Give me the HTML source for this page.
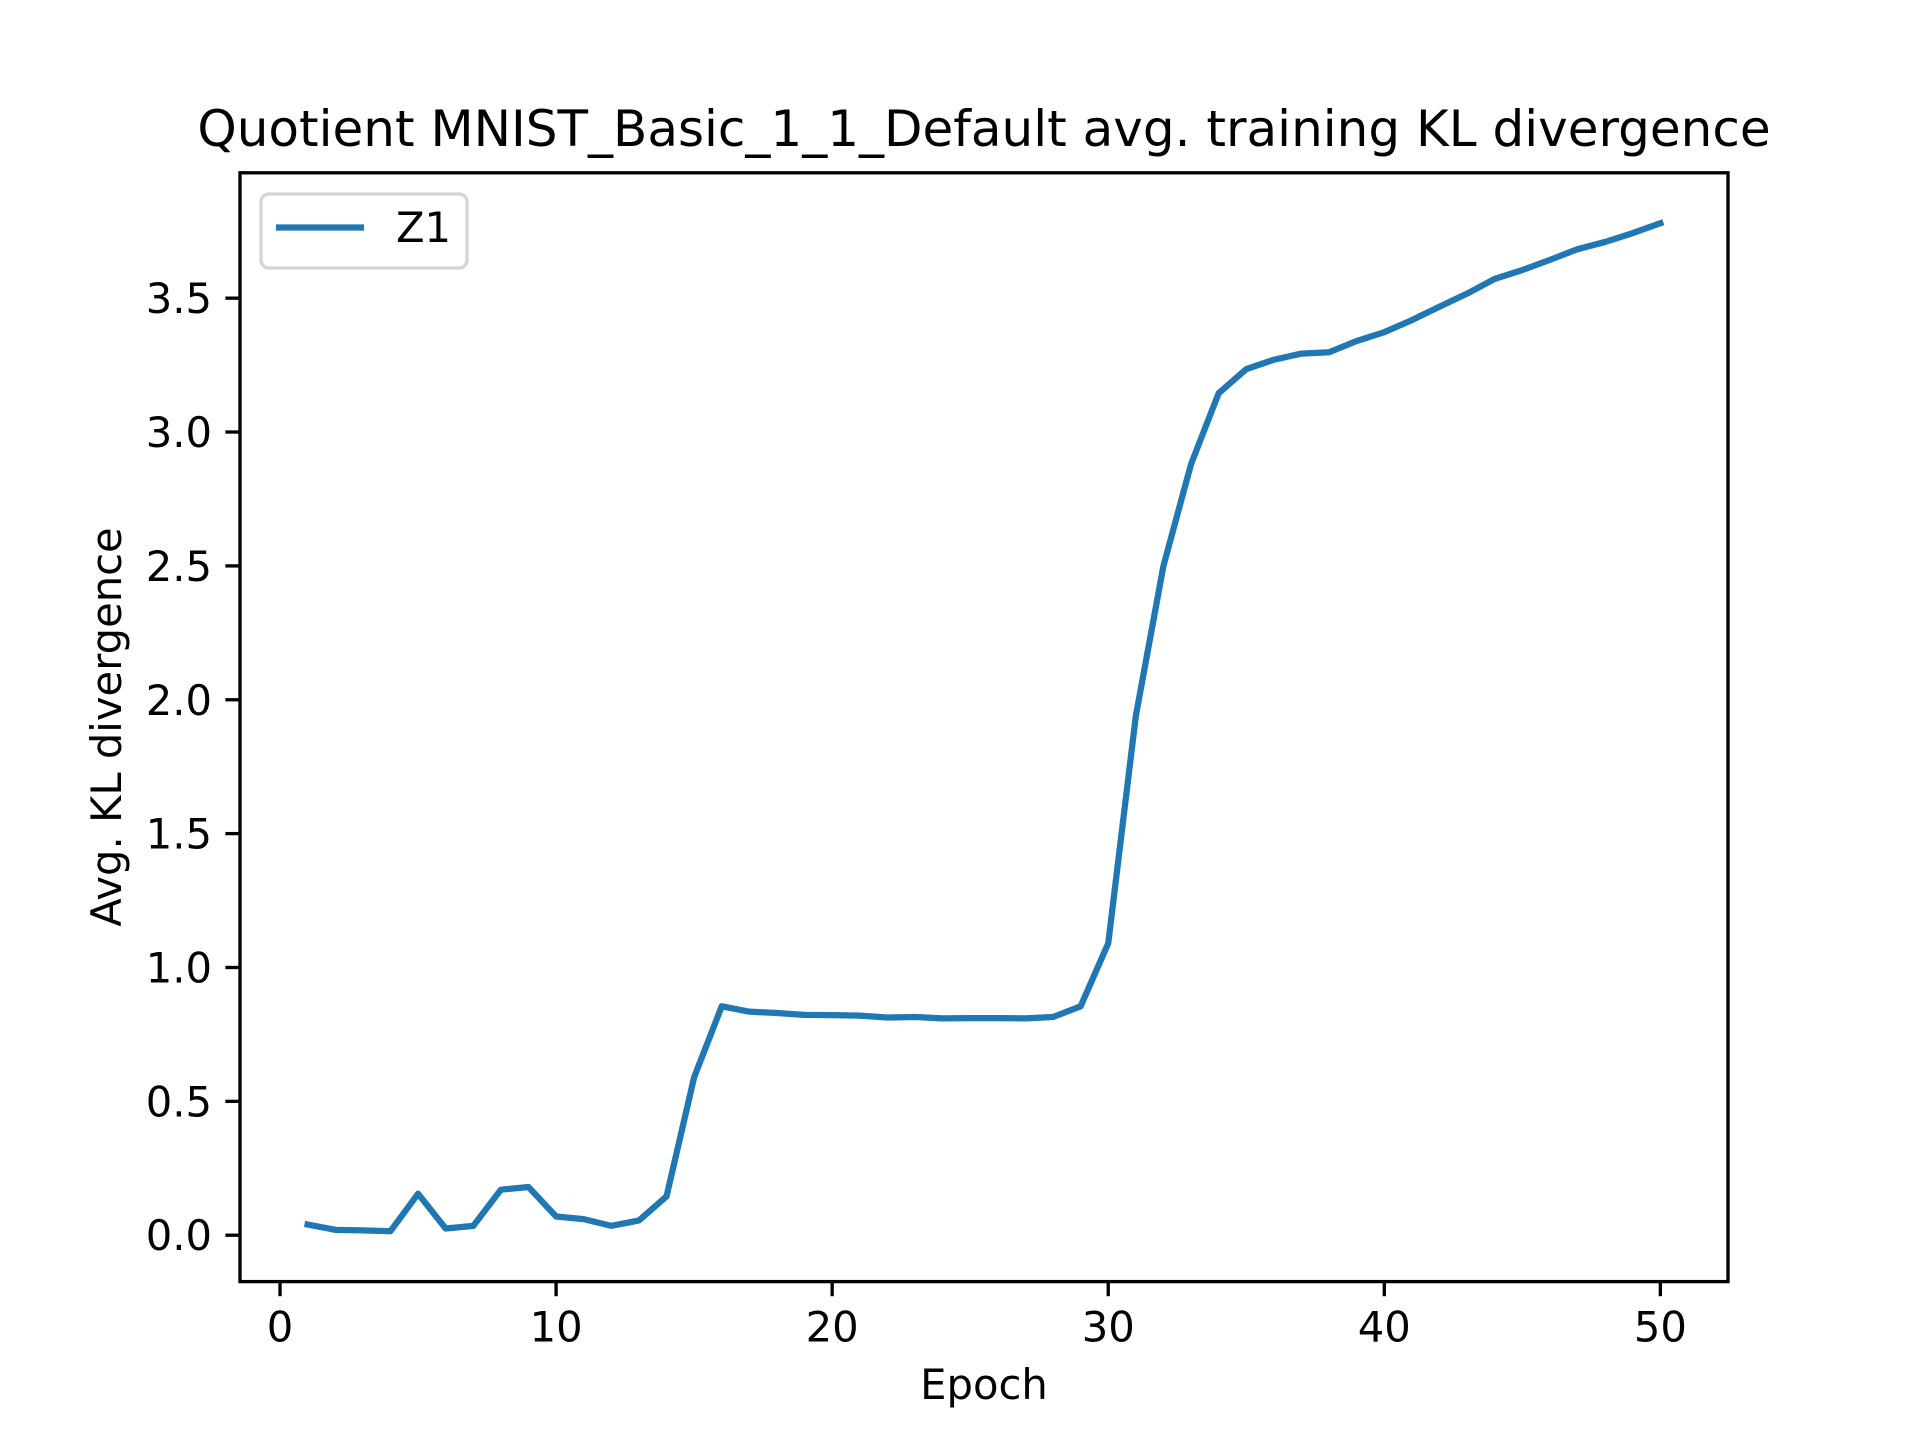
<!DOCTYPE html>
<html><head><meta charset="utf-8"><style>
html,body{margin:0;padding:0;background:#fff;}
svg{display:block;font-family:"DejaVu Sans","Liberation Sans",sans-serif;}
</style></head><body>
<svg id="chart" width="1920" height="1440" viewBox="0 0 1920 1440" xmlns="http://www.w3.org/2000/svg">
<rect x="0" y="0" width="1920" height="1440" fill="#fff"/>
<text x="984" y="146" font-size="50" text-anchor="middle" fill="#000">Quotient MNIST_Basic_1_1_Default avg. training KL divergence</text>
<g id="xticks"></g>
<g id="yticks"></g>
<path id="series" fill="none" stroke="#1f77b4" stroke-width="6.25" stroke-linejoin="round" stroke-linecap="square"/>
<rect x="240" y="172.8" width="1488" height="1108.8" fill="none" stroke="#000" stroke-width="3.33"/>
<text x="984" y="1399" font-size="41.7" text-anchor="middle" fill="#000">Epoch</text>
<text x="0" y="0" font-size="41.7" text-anchor="middle" fill="#000" transform="translate(121,727) rotate(-90)">Avg. KL divergence</text>
<g>
<rect x="261" y="194" width="206" height="74" rx="8" fill="#fff" fill-opacity="0.8" stroke="#d5d5d5" stroke-width="3.33"/>
<line x1="276" y1="227.5" x2="364" y2="227.5" stroke="#1f77b4" stroke-width="6.25"/>
<text x="396" y="242" font-size="41.7" fill="#000">Z1</text>
</g>
</svg>
<script>
const epochs = [1,2,3,4,5,6,7,8,9,10,11,12,13,14,15,16,17,18,19,20,21,22,23,24,25,26,27,28,29,30,31,32,33,34,35,36,37,38,39,40,41,42,43,44,45,46,47,48,49,50];
const z1 = [0.04,0.02,0.018,0.015,0.155,0.025,0.035,0.17,0.18,0.07,0.06,0.035,0.055,0.145,0.59,0.855,0.835,0.83,0.823,0.822,0.82,0.813,0.815,0.81,0.811,0.811,0.81,0.815,0.855,1.09,1.94,2.5,2.88,3.145,3.235,3.27,3.293,3.298,3.34,3.373,3.418,3.468,3.517,3.572,3.605,3.643,3.683,3.71,3.743,3.78];
const xTicks = [0,10,20,30,40,50];
const yTicks = [0.0,0.5,1.0,1.5,2.0,2.5,3.0,3.5];
const yTickLabels = ["0.0","0.5","1.0","1.5","2.0","2.5","3.0","3.5"];

const L=240,R=1728,T=172.8,B=1281.6;
const xmin0=Math.min(...epochs),xmax0=Math.max(...epochs);
const ymin0=Math.min(...z1),ymax0=Math.max(...z1);
const xpad=(xmax0-xmin0)*0.05,ypad=(ymax0-ymin0)*0.05;
const xmin=xmin0-xpad,xmax=xmax0+xpad,ymin=ymin0-ypad,ymax=ymax0+ypad;
const sx=v=>L+(v-xmin)/(xmax-xmin)*(R-L);
const sy=v=>B-(v-ymin)/(ymax-ymin)*(B-T);
const NS="http://www.w3.org/2000/svg";

const xg=document.getElementById('xticks');
xTicks.forEach(t=>{
  const x=sx(t);
  const ln=document.createElementNS(NS,'line');
  
  
  ln.setAttribute('x1',x);ln.setAttribute('x2',x);ln.setAttribute('y1',B);ln.setAttribute('y2',B+14.6);
  ln.setAttribute('stroke','#000');ln.setAttribute('stroke-width','3.33');
  xg.appendChild(ln);
  const tx=document.createElementNS(NS,'text');
  
  
  tx.setAttribute('x',x);tx.setAttribute('y',B+60);tx.setAttribute('font-size','41.7');tx.setAttribute('text-anchor','middle');
  tx.textContent=String(t);
  xg.appendChild(tx);
});
const yg=document.getElementById('yticks');
yTicks.forEach((t,i)=>{
  const y=sy(t);
  const ln=document.createElementNS(NS,'line');
  
  
  ln.setAttribute('x1',L-14.6);ln.setAttribute('x2',L);ln.setAttribute('y1',y);ln.setAttribute('y2',y);
  ln.setAttribute('stroke','#000');ln.setAttribute('stroke-width','3.33');
  yg.appendChild(ln);
  const tx=document.createElementNS(NS,'text');
  
  
  tx.setAttribute('x',L-28);tx.setAttribute('y',y+15);tx.setAttribute('font-size','41.7');tx.setAttribute('text-anchor','end');
  tx.textContent=yTickLabels[i];
  yg.appendChild(tx);
});
document.getElementById('series').setAttribute('d',epochs.map((e,i)=>(i?'L':'M')+sx(e).toFixed(2)+' '+sy(z1[i]).toFixed(2)).join(' '));
</script>
</body></html>
